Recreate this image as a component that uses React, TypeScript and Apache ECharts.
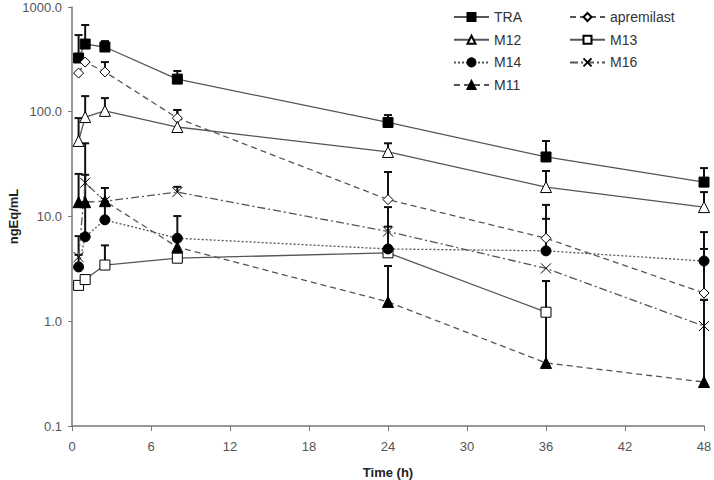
import React, { useEffect, useRef } from "react";
import * as echarts from "echarts";

const times = [0.5, 1, 2.5, 8, 24, 36, 48];
const yTicks = ["1000.0", "100.0", "10.0", "1.0", "0.1"];

const TRA = [326, 443, 415, 205, 79, 37, 21.3];
const TRA_up = [540, 673, 473, 245, 93, 52.6, 29];
const apremilast = [234, 298, 240, 87, 14.5, 6.2, 1.86];
const apremilast_up = [null, null, 298, 104, 26.6, 12.9, 4.9];
const M12 = [52.6, 89, 102, 71.5, 41.3, 19.1, 12.3];
const M12_up = [87, 141, 135, 104, 50, 27.2, 17.1];
const M13 = [2.2, 2.5, 3.44, 4.0, 4.5, 1.22];
const M13_up = [null, null, 5.3, null, null, 2.42];
const M14 = [3.3, 6.4, 9.3, 6.2, 4.9, 4.7, 3.76];
const M14_up = [4.3, 13.7, 13.9, 10.1, 8.0, 9.5, 7.1];
const M16 = [4.1, 21, 14, 17.1, 7.2, 3.2, 0.9];
const M16_up = [6.5, 25, null, 19.2, 12.3, null, 1.6];
const M11 = [13.7, 13.7, 14, 5.1, 1.53, 0.4, 0.263];
const M11_up = [25.5, 50, 18.7, null, 3.37, 2.42, 1.6];

const LINE = "#555";
const FONT = "'Liberation Sans', Arial, sans-serif";

function pts(vals: number[]) {
  return vals.map((v, i) => [times[i], v]);
}

function errs(vals: number[], ups: (number | null)[]) {
  const out: number[][] = [];
  ups.forEach((u, i) => {
    if (u != null && vals[i] != null) out.push([times[i], vals[i], u]);
  });
  return out;
}

export default function App() {
  const ref = useRef<HTMLDivElement>(null);
  useEffect(() => {
    if (!ref.current) return;
    const chart = echarts.init(ref.current, null, { renderer: "svg" });

    const mk = (
      name: string,
      vals: number[],
      symbol: string,
      size: number,
      fill: string,
      dash: any
    ) => ({
      name,
      type: "line",
      data: pts(vals),
      symbol,
      symbolSize: size,
      showAllSymbol: true,
      z: 3,
      lineStyle: { color: LINE, width: 1.3, type: dash },
      itemStyle: { color: fill, borderColor: "#000", borderWidth: 1 },
      emphasis: { disabled: true },
    });

    const allErr = [
      ...errs(TRA, TRA_up),
      ...errs(apremilast, apremilast_up),
      ...errs(M12, M12_up),
      ...errs(M13, M13_up),
      ...errs(M14, M14_up),
      ...errs(M16, M16_up),
      ...errs(M11, M11_up),
    ];

    const legendText = { fontSize: 14, color: "#333", fontFamily: FONT };

    chart.setOption({
      animation: false,
      backgroundColor: "#fff",
      textStyle: { fontFamily: FONT },
      grid: {
        left: 72,
        right: 10,
        top: 7,
        bottom: 54,
        containLabel: false,
        outerBoundsMode: "none",
      },
      legend: [
        {
          data: ["TRA", "M12", "M14", "M11"],
          orient: "vertical",
          left: 448,
          top: 5,
          itemWidth: 35,
          itemHeight: 10,
          itemGap: 8.7,
          textStyle: legendText,
          selectedMode: false,
        },
        {
          data: ["apremilast", "M13", "M16"],
          orient: "vertical",
          left: 564,
          top: 5,
          itemWidth: 35,
          itemHeight: 10,
          itemGap: 8.7,
          textStyle: legendText,
          selectedMode: false,
        },
      ],
      xAxis: {
        type: "value",
        min: 0,
        max: 48,
        interval: 6,
        name: "Time (h)",
        nameLocation: "middle",
        nameGap: 40,
        nameMoveOverlap: false,
        nameTextStyle: { fontWeight: "bold", fontSize: 13, color: "#222" },
        axisLine: { lineStyle: { color: "#777", width: 1.5 } },
        axisTick: { show: true, inside: false, length: 5, lineStyle: { color: "#777" } },
        axisLabel: { fontSize: 13, color: "#555", margin: 14 },
        splitLine: { show: false },
      },
      yAxis: {
        type: "log",
        logBase: 10,
        min: 0.1,
        max: 1000,
        name: "ngEq/mL",
        nameLocation: "middle",
        nameGap: 52,
        nameRotate: 90,
        nameMoveOverlap: false,
        nameTextStyle: { fontWeight: "bold", fontSize: 13, color: "#222" },
        axisLine: { show: true, lineStyle: { color: "#777", width: 1.5 } },
        axisTick: { show: true, inside: false, length: 4, lineStyle: { color: "#777" } },
        axisLabel: {
          fontSize: 13,
          color: "#555",
          margin: 10,
          formatter: (v: number) => {
            const s = v.toFixed(1);
            return yTicks.includes(s) ? s : "";
          },
        },
        splitLine: { show: false },
        minorTick: { show: false },
      },
      series: [
        {
          type: "custom",
          z: 2,
          silent: true,
          data: allErr,
          encode: { x: 0, y: [1, 2] },
          renderItem: (params: any, api: any) => {
            const p0 = api.coord([api.value(0), api.value(1)]);
            const p1 = api.coord([api.value(0), api.value(2)]);
            return {
              type: "group",
              children: [
                {
                  type: "line",
                  shape: { x1: p0[0], y1: p0[1], x2: p1[0], y2: p1[1] },
                  style: { stroke: "#111", lineWidth: 2 },
                },
                {
                  type: "line",
                  shape: { x1: p1[0] - 4, y1: p1[1], x2: p1[0] + 4, y2: p1[1] },
                  style: { stroke: "#111", lineWidth: 2 },
                },
              ],
            };
          },
        },
        mk("TRA", TRA, "rect", 10, "#000", "solid"),
        mk("apremilast", apremilast, "diamond", 10, "#fff", [6, 4]),
        mk("M12", M12, "triangle", 11, "#fff", "solid"),
        mk("M13", M13, "rect", 10, "#fff", "solid"),
        mk("M14", M14, "circle", 10, "#000", [2, 2]),
        mk("M16", M16, "path://M0,0L10,10M10,0L0,10", 10, "none", [8, 3, 2, 3]),
        mk("M11", M11, "triangle", 11, "#000", [6, 4]),
      ],
    });
    return () => chart.dispose();
  }, []);
  return (
    <div
      ref={ref}
      style={{ width: 714, height: 480, position: "fixed", left: 0, top: 0 }}
    />
  );
}
